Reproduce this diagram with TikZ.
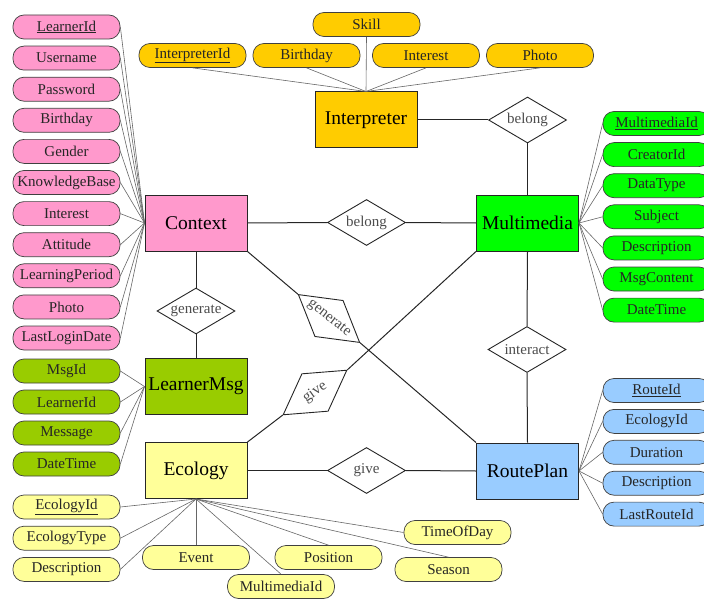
\documentclass[tikz,border=0pt]{standalone}
\usepackage{fontspec}
\setmainfont{Liberation Serif}
\usetikzlibrary{shapes.geometric}

\definecolor{ctxpink}{HTML}{FF99CC}
\definecolor{intgold}{HTML}{FFCC00}
\definecolor{mmgreen}{HTML}{00FF00}
\definecolor{msgolive}{HTML}{99CC00}
\definecolor{ecoyellow}{HTML}{FFFF99}
\definecolor{routeblue}{HTML}{99CCFF}

\begin{document}
\begin{tikzpicture}[x=1pt,y=-1pt,
  attr/.style={draw=black!75, line width=0.7pt, rounded corners=11pt,
    minimum width=107pt, minimum height=24pt, inner sep=0pt,
    font=\fontsize{15}{15}\selectfont, text=black!85},
  ent/.style={draw=black!85, line width=1pt, minimum width=102pt,
    minimum height=56pt, inner sep=0pt, font=\fontsize{19.5}{20}\selectfont},
  rel/.style={diamond, draw=black!85, line width=0.9pt, aspect=1.7,
    minimum width=78pt, minimum height=46pt, inner sep=0pt, fill=white,
    font=\fontsize{15}{15}\selectfont, text=black!70},
  alink/.style={draw=black!60, line width=0.6pt},
  rlink/.style={draw=black!85, line width=1pt}]

\useasboundingbox (0,0) rectangle (704,599);

% entities
\node[ent, fill=ctxpink]   (ctx)  at (196,223)   {Context};
\node[ent, fill=msgolive]  (lmsg) at (196,386.5) {LearnerMsg};
\node[ent, fill=ecoyellow] (eco)  at (196,470.5) {Ecology};
\node[ent, fill=intgold]   (intp) at (366,120)   {Interpreter};
\node[ent, fill=mmgreen]   (mm)   at (527.5,223) {Multimedia};
\node[ent, fill=routeblue] (rp)   at (527.5,471) {RoutePlan};

% relationships
\node[rel] (bel1)  at (527.5,120)   {belong};
\node[rel] (bel2)  at (366.5,222.5) {belong};
\node[rel] (gen1)  at (196,311)     {generate};
\node[rel, rotate=-38] (gen2) at (329,318.5) {generate};
\node[rel, rotate=35]  (giv1) at (315,392.5) {give};
\node[rel] (giv2)  at (366.5,470.5) {give};
\node[rel] (inter) at (527,349.5)   {interact};

\draw[rlink] (intp.east) -- (bel1.west);
\draw[rlink] (bel1.south) -- (mm.north);
\draw[rlink] (ctx.east) -- (bel2.west);
\draw[rlink] (bel2.east) -- (mm.west);
\draw[rlink] (ctx.south) -- (gen1.north);
\draw[rlink] (gen1.south) -- (lmsg.north);
\draw[rlink] (ctx.south east) -- (gen2.west);
\draw[rlink] (gen2.east) -- (rp.north west);
\draw[rlink] (mm.south west) -- (giv1.east);
\draw[rlink] (giv1.west) -- (eco.north east);
\draw[rlink] (eco.east) -- (giv2.west);
\draw[rlink] (giv2.east) -- (rp.west);
\draw[rlink] (mm.south) -- (inter.north);
\draw[rlink] (inter.south) -- (rp.north);

% Context attributes
\foreach \t [count=\i] in {{\underline{LearnerId}},Username,Password,Birthday,Gender,
    KnowledgeBase,Interest,Attitude,LearningPeriod,Photo,LastLoginDate}{
  \node[attr, fill=ctxpink] (ca\i) at (66.5,{27+31.1*(\i-1)}) {\t};
  \draw[alink] (ca\i.east) -- (ctx.west);
}

% LearnerMsg attributes
\foreach \t [count=\i] in {MsgId,LearnerId,Message,DateTime}{
  \node[attr, fill=msgolive] (la\i) at (66.5,{371+31*(\i-1)}) {\t};
  \draw[alink] (la\i.east) -- (lmsg.west);
}

% Ecology attributes
\foreach \t [count=\i] in {{\underline{EcologyId}},EcologyType,Description}{
  \node[attr, fill=ecoyellow] (ea\i) at (66.5,{507+31.2*(\i-1)}) {\t};
  \draw[alink] (ea\i.east) -- (eco.south);
}
\node[attr, fill=ecoyellow] (evt) at (196,557.5)   {Event};
\node[attr, fill=ecoyellow] (emm) at (281,586.5)   {MultimediaId};
\node[attr, fill=ecoyellow] (pos) at (328.5,557.5) {Position};
\node[attr, fill=ecoyellow] (sea) at (448.5,569.5) {Season};
\node[attr, fill=ecoyellow] (tod) at (457.5,532.5) {TimeOfDay};
\draw[alink] (eco.south) -- (evt.north);
\draw[alink] (eco.south) -- (emm.north);
\draw[alink] (eco.south) -- (pos.north);
\draw[alink] (eco.south) -- (sea.north);
\draw[alink] (eco.south) -- (tod.west);

% Interpreter attributes
\node[attr, fill=intgold] (skl) at (366.5,24.5) {Skill};
\node[attr, fill=intgold] (iid) at (192.5,55.5) {\underline{InterpreterId}};
\node[attr, fill=intgold] (ibd) at (306.5,55.5) {Birthday};
\node[attr, fill=intgold] (iin) at (426,55.5)   {Interest};
\node[attr, fill=intgold] (iph) at (540,55.5)   {Photo};
\foreach \a in {skl,iid,ibd,iin,iph}{
  \draw[alink] (\a.south) -- (intp.north);
}

% Multimedia attributes
\foreach \t [count=\i] in {{\underline{MultimediaId}},CreatorId,DataType,Subject,
    Description,MsgContent,DateTime}{
  \node[attr, fill=mmgreen] (ma\i) at (656.5,{123.5+31.1*(\i-1)}) {\t};
  \draw[alink] (mm.east) -- (ma\i.west);
}

% RoutePlan attributes
\foreach \t [count=\i] in {{\underline{RouteId}},EcologyId,Duration,Description,LastRouteId}{
  \node[attr, fill=routeblue] (ra\i) at (656.5,{390.5+30.9*(\i-1)}) {\t};
  \draw[alink] (rp.east) -- (ra\i.west);
}
\end{tikzpicture}
\end{document}
